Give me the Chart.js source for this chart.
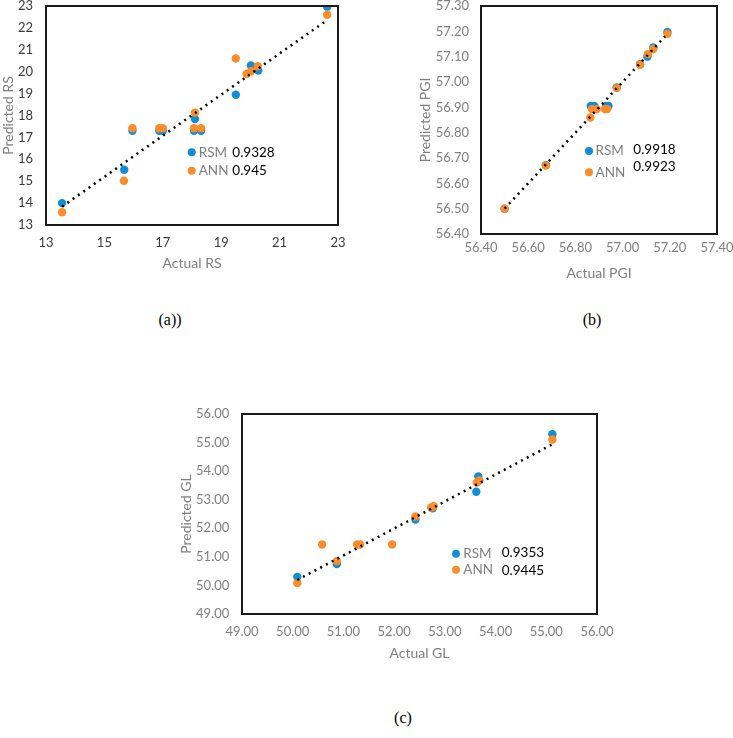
<!DOCTYPE html>
<html>
<head>
<meta charset="utf-8">
<script src="https://cdn.jsdelivr.net/npm/chart.js@4.4.1/dist/chart.umd.min.js"></script>
<style>
  body { margin: 0; background: #fff; }
  #page { position: relative; width: 733px; height: 738px; overflow: hidden; }
  .box { position: absolute; }
  .cap { position: absolute; font-family: "Liberation Serif", serif; font-size: 16px; color: #000; transform: translate(-50%, -50%); }
</style>
</head>
<body>
<div id="page">
  <div class="box" style="left:0px;top:0px;width:360px;height:280px;"><canvas id="rsChart"></canvas></div>
  <div class="box" style="left:410px;top:0px;width:323px;height:290px;"><canvas id="pgiChart"></canvas></div>
  <div class="box" style="left:170px;top:390px;width:450px;height:280px;"><canvas id="glChart"></canvas></div>
  <div class="cap" style="left:170px;top:320px;">(a))</div>
  <div class="cap" style="left:592px;top:320px;">(b)</div>
  <div class="cap" style="left:403px;top:718px;">(c)</div>
</div>
<script>
// (a) RS
const rsActualRsm = [13.55, 15.68, 15.96, 16.88, 17.0, 18.07, 18.31, 18.1, 19.5, 20.02, 20.27, 22.63];
const rsPredRsm   = [14.0, 15.52, 17.3, 17.3, 17.3, 17.3, 17.3, 17.84, 18.95, 20.28, 20.05, 22.97];
const rsActualAnn = [13.55, 15.67, 15.96, 16.88, 17.0, 18.07, 18.31, 18.1, 19.5, 19.87, 20.02, 20.25, 22.63];
const rsPredAnn   = [13.58, 15.02, 17.42, 17.42, 17.42, 17.42, 17.42, 18.13, 20.6, 19.9, 20.02, 20.25, 22.6];
const rsTrendX = [13.55, 22.6];
const rsTrendY = [13.84, 22.33];
const rsR2 = ['0.9328', '0.945'];

// (b) PGI
const pgiActualRsm = [56.50, 56.675, 56.865, 56.88, 56.93, 56.94, 56.975, 57.074, 57.105, 57.13, 57.19];
const pgiPredRsm   = [56.50, 56.672, 56.905, 56.905, 56.905, 56.905, 56.978, 57.07, 57.10, 57.136, 57.197];
const pgiActualAnn = [56.50, 56.675, 56.863, 56.87, 56.89, 56.925, 56.935, 56.975, 57.074, 57.107, 57.13, 57.19];
const pgiPredAnn   = [56.50, 56.67, 56.86, 56.893, 56.893, 56.893, 56.893, 56.976, 57.068, 57.11, 57.13, 57.19];
const pgiTrendX = [56.50, 57.18];
const pgiTrendY = [56.50, 57.18];
const pgiR2 = ['0.9918', '0.9923'];

// (c) GL
const glActualRsm = [50.09, 50.87, 52.42, 52.76, 53.66, 53.62, 55.12];
const glPredRsm   = [50.30, 50.75, 52.31, 52.70, 53.81, 53.28, 55.29];
const glActualAnn = [50.09, 50.58, 50.87, 51.27, 51.33, 51.96, 52.42, 52.73, 52.78, 53.63, 53.68, 55.12];
const glPredAnn   = [50.08, 51.43, 50.85, 51.43, 51.43, 51.43, 52.41, 52.73, 52.77, 53.60, 53.67, 55.11];
const glTrendX = [50.09, 55.12];
const glTrendY = [50.19, 54.94];
const glR2 = ['0.9353', '0.9445'];

const seriesNames = ['RSM', 'ANN'];
const BLUE = 'rgb(17, 141, 214)';
const ORANGE = 'rgb(250, 140, 42)';
const GREY = '#7f7f7f';
const FONT = 'Lato';

const toPoints = (xs, ys) => xs.map((x, i) => ({ x: x, y: ys[i] }));

// black frame round the plot area
const plotBox = {
  id: 'plotBox',
  afterDraw(chart) {
    const { ctx, chartArea: a } = chart;
    ctx.save();
    ctx.strokeStyle = '#1a1a1a';
    ctx.lineWidth = 2;
    ctx.strokeRect(a.left, a.top, a.width, a.height);
    ctx.restore();
  }
};

// small key with the R² values next to it
const fitKey = {
  id: 'fitKey',
  afterDraw(chart, args, opts) {
    const ctx = chart.ctx;
    const colors = [BLUE, ORANGE];
    ctx.save();
    ctx.font = '13.5px ' + FONT;
    ctx.textBaseline = 'middle';
    ctx.textAlign = 'left';
    for (let i = 0; i < 2; i++) {
      const y = opts.y + i * opts.dy;
      ctx.fillStyle = colors[i];
      ctx.beginPath();
      ctx.arc(opts.x, y, 4, 0, Math.PI * 2);
      ctx.fill();
      ctx.fillStyle = GREY;
      ctx.fillText(seriesNames[i], opts.x + opts.textDx, y);
      ctx.fillStyle = '#000';
      ctx.fillText(opts.values[i], opts.x + opts.valueDx, opts.valueY[i]);
    }
    ctx.restore();
  }
};

function makeChart(id, cfg) {
  const ctx = document.getElementById(id);
  return new Chart(ctx, {
    type: 'scatter',
    data: {
      datasets: [
        {
          label: 'Trend',
          data: toPoints(cfg.trendX, cfg.trendY),
          showLine: true,
          borderColor: '#000',
          borderWidth: 2.5,
          borderDash: [2, 4.5],
          pointRadius: 0,
          order: 0
        },
        {
          label: seriesNames[1],
          data: toPoints(cfg.annX, cfg.annY),
          backgroundColor: ORANGE,
          borderWidth: 0,
          pointRadius: 4.2,
          order: 1
        },
        {
          label: seriesNames[0],
          data: toPoints(cfg.rsmX, cfg.rsmY),
          backgroundColor: BLUE,
          borderWidth: 0,
          pointRadius: 4.2,
          order: 2
        }
      ]
    },
    options: {
      responsive: true,
      maintainAspectRatio: false,
      animation: false,
      layout: { padding: cfg.padding },
      plugins: {
        legend: { display: false },
        tooltip: { enabled: false },
        fitKey: cfg.key
      },
      scales: {
        x: {
          min: cfg.xMin, max: cfg.xMax,
          grid: { display: false, drawTicks: false },
          border: { display: false },
          ticks: {
            stepSize: cfg.xStep, padding: cfg.xTickPad,
            color: cfg.tickColor, font: { family: FONT, size: 13 },
            callback: v => v.toFixed(cfg.decimals)
          },
          title: {
            display: true, text: cfg.xTitle, color: GREY,
            font: { family: FONT, size: 14 }, padding: { top: 0, bottom: 8.3 }
          },
          afterFit(scale) {
            scale.height = cfg.xHeight;
            scale.paddingLeft = 0;
            scale.paddingRight = 0;
          }
        },
        y: {
          min: cfg.yMin, max: cfg.yMax,
          grid: { display: false, drawTicks: false },
          border: { display: false },
          ticks: {
            stepSize: cfg.yStep, padding: cfg.yTickPad,
            color: cfg.tickColor, font: { family: FONT, size: 13 },
            callback: v => v.toFixed(cfg.decimals)
          },
          title: {
            display: true, text: cfg.yTitle, color: GREY,
            font: { family: FONT, size: 14 }, padding: { top: cfg.yTitlePad, bottom: 0 }
          },
          afterFit(scale) {
            scale.width = cfg.yWidth;
            scale.paddingTop = 0;
            scale.paddingBottom = 0;
          }
        }
      }
    },
    plugins: [plotBox, fitKey]
  });
}

makeChart('rsChart', {
  rsmX: rsActualRsm, rsmY: rsPredRsm, annX: rsActualAnn, annY: rsPredAnn,
  trendX: rsTrendX, trendY: rsTrendY,
  xMin: 13, xMax: 23, xStep: 2, yMin: 13, yMax: 23, yStep: 1, decimals: 0,
  xTitle: 'Actual RS', yTitle: 'Predicted RS', tickColor: '#3a3a3a',
  padding: { top: 6, right: 22, bottom: 0, left: 0 },
  yWidth: 46, xHeight: 55, xTickPad: 10.5, yTickPad: 13, yTitlePad: 0,
  key: { x: 191.7, y: 152.3, dy: 18.4, textDx: 7, valueDx: 40.6, values: rsR2, valueY: [152.3, 170.7] }
});

makeChart('pgiChart', {
  rsmX: pgiActualRsm, rsmY: pgiPredRsm, annX: pgiActualAnn, annY: pgiPredAnn,
  trendX: pgiTrendX, trendY: pgiTrendY,
  xMin: 56.4, xMax: 57.4, xStep: 0.2, yMin: 56.4, yMax: 57.3, yStep: 0.1, decimals: 2,
  xTitle: 'Actual PGI', yTitle: 'Predicted PGI', tickColor: GREY,
  padding: { top: 6, right: 16, bottom: 0, left: 0 },
  yWidth: 71, xHeight: 56, xTickPad: 6.5, yTickPad: 12, yTitlePad: 6.6,
  key: { x: 179, y: 151, dy: 21.3, textDx: 6.5, valueDx: 44.3, values: pgiR2, valueY: [150, 166.7] }
});

makeChart('glChart', {
  rsmX: glActualRsm, rsmY: glPredRsm, annX: glActualAnn, annY: glPredAnn,
  trendX: glTrendX, trendY: glTrendY,
  xMin: 49, xMax: 56, xStep: 1, yMin: 49, yMax: 56, yStep: 1, decimals: 2,
  xTitle: 'Actual GL', yTitle: 'Predicted GL', tickColor: GREY,
  padding: { top: 24, right: 23, bottom: 0, left: 0 },
  yWidth: 72, xHeight: 56, xTickPad: 10, yTickPad: 12.7, yTitlePad: 8.3,
  key: { x: 286, y: 163.7, dy: 16, textDx: 7.3, valueDx: 45.7, values: glR2, valueY: [162.3, 180.3] }
});
</script>
</body>
</html>
